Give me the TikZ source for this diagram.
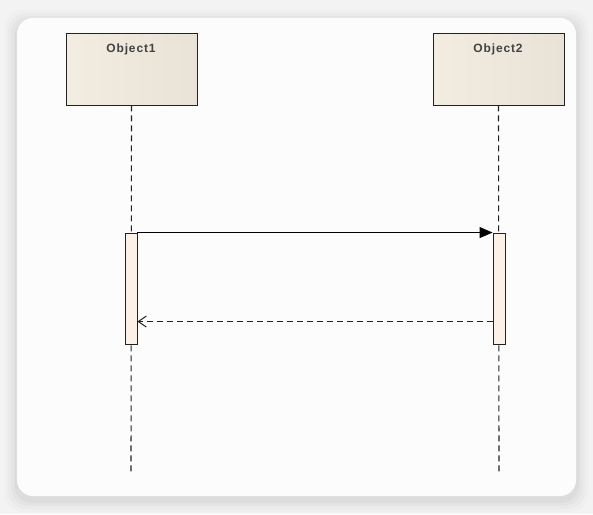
\documentclass[tikz,border=0pt]{standalone}
\usepackage{fontspec}
\setmainfont{Liberation Sans}
\usetikzlibrary{arrows.meta}
\definecolor{bgc}{HTML}{F3F3F3}
\definecolor{cardc}{HTML}{FBFCFB}
\definecolor{objfill}{HTML}{F3ECE0}
\definecolor{objfill2}{HTML}{E9E2D6}
\definecolor{actfill}{HTML}{FBF1E6}
\definecolor{linec}{HTML}{222222}
\tikzset{
  objbox/.style={draw=linec, line width=0.9pt, left color=objfill, right color=objfill2, minimum width=131pt, minimum height=72pt, inner sep=0pt},
  actbar/.style={draw=linec, line width=0.9pt, fill=actfill, minimum width=12pt, minimum height=111pt, inner sep=0pt},
  lifeline/.style={draw=linec, line width=1.1pt, dash pattern=on 6pt off 4pt},
  objlabel/.style={font=\fontsize{12}{14}\selectfont\bfseries\addfontfeature{LetterSpace=7}, text=linec!85!white, anchor=base},
  callmsg/.style={draw=black, line width=1pt, -{Triangle[length=13pt,width=11pt]}},
  retmsg/.style={draw=linec, line width=1pt, dash pattern=on 6pt off 4pt, -{Straight Barb[length=8pt,width=11pt]}}
}
\begin{document}
\begin{tikzpicture}[x=1pt,y=-1pt]
\useasboundingbox (0,0) rectangle (593,514);
\fill[bgc] (0,0) rectangle (593,514);
% soft shadow
\foreach \d/\o in {12/0.015,9/0.02,6/0.025,3/0.03}{
  \fill[black,opacity=\o,rounded corners=18pt] (17-\d,18-\d+4) rectangle (576+\d,496+\d+4);
}
\fill[cardc,rounded corners=16pt] (17,18) rectangle (576,496);
% objects
\node[objbox] (o1) at (131.5,69) {};
\node[objbox] (o2) at (498.5,69) {};
\node[objlabel] (t1) at (131,52) {Object1};
\node[objlabel] (t2) at (498,52) {Object2};
% lifeline ends
\coordinate (e1) at (131,472);
\coordinate (e2) at (499,472);
\draw[lifeline] (o1.south) -- (e1);
\draw[lifeline] (o2.south) -- (e2);
% activations
\node[actbar] (a1) at (131,288.5) {};
\node[actbar] (a2) at (499,288.5) {};
% messages
\draw[callmsg] (a1.north east) -- (a2.north west);
\draw[retmsg] ([yshift=-89pt]a2.north west) -- ([yshift=-89pt]a1.north east);
\end{tikzpicture}
\end{document}
